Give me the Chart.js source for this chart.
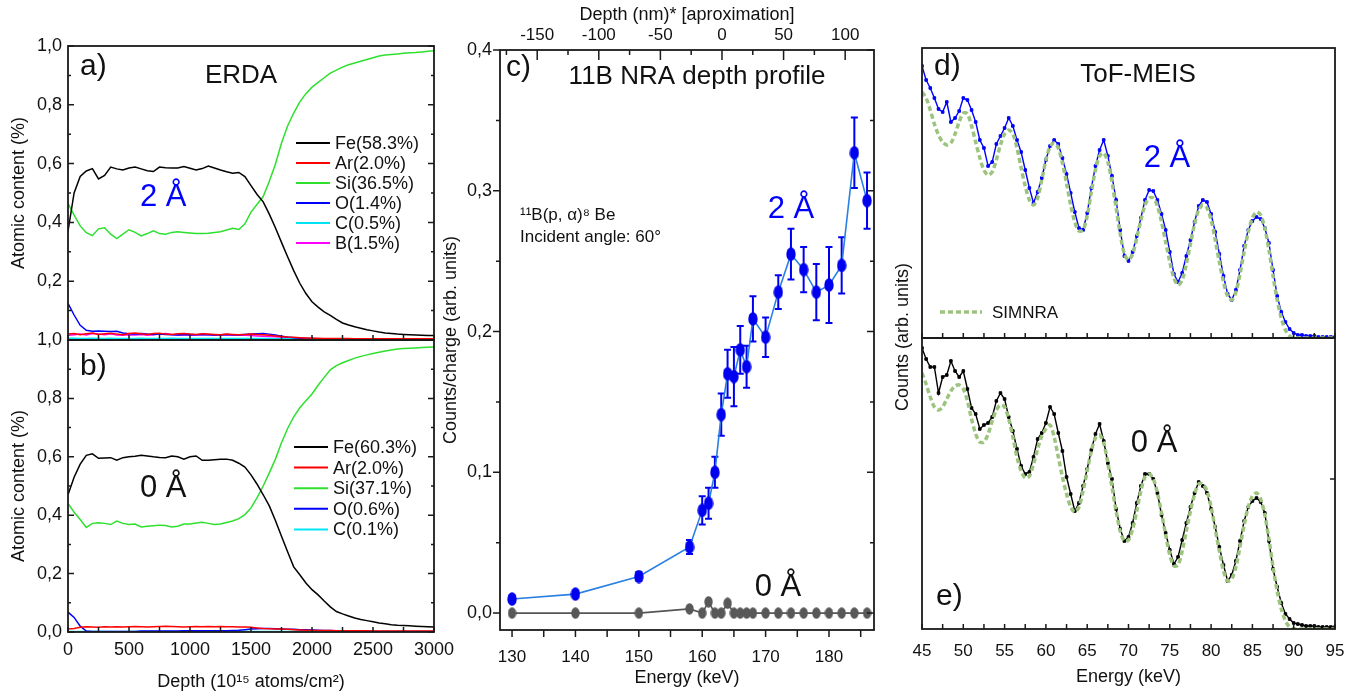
<!DOCTYPE html>
<html>
<head>
<meta charset="utf-8">
<title>ERDA / 11B NRA / ToF-MEIS</title>
<script src="https://cdn.jsdelivr.net/npm/chart.js@4.4.1/dist/chart.umd.min.js"></script>
<style>
	html, body { margin: 0; padding: 0; background: #fff; }
	#stage { position: relative; width: 1372px; height: 700px; overflow: hidden; }
	#stage canvas { position: absolute; left: 0; top: 0; }
</style>
</head>
<body>
<div id="stage">
	<canvas id="erdaA" width="1372" height="700"></canvas>
	<canvas id="erdaB" width="1372" height="700"></canvas>
	<canvas id="nraC" width="1372" height="700"></canvas>
	<canvas id="meisD" width="1372" height="700"></canvas>
	<canvas id="meisE" width="1372" height="700"></canvas>
</div>
<script>

// ---- ERDA (panels a, b): depth in 1e15 atoms/cm2, atomic fraction ----
const depth = [
	0, 50, 100, 150, 200, 250, 300, 350, 400, 450,
	500, 550, 600, 650, 700, 750, 800, 850, 900, 950,
	1000, 1050, 1100, 1150, 1200, 1250, 1300, 1350, 1400, 1450,
	1500, 1550, 1600, 1650, 1700, 1750, 1800, 1850, 1900, 1950,
	2000, 2050, 2100, 2150, 2200, 2250, 2300, 2350, 2400, 2450,
	2500, 2550, 2600, 2650, 2700, 2750, 2800, 2850, 2900, 2950,
	3000
]

const labelsA = ['Fe(58.3%)', 'Ar(2.0%)', 'Si(36.5%)', 'O(1.4%)', 'C(0.5%)', 'B(1.5%)']
const labelsB = ['Fe(60.3%)', 'Ar(2.0%)', 'Si(37.1%)', 'O(0.6%)', 'C(0.1%)']

const feA = [
	0.370, 0.500, 0.556, 0.575, 0.583, 0.548, 0.560, 0.588, 0.582, 0.578,
	0.585, 0.588, 0.582, 0.576, 0.573, 0.588, 0.586, 0.585, 0.585, 0.590,
	0.584, 0.578, 0.583, 0.592, 0.585, 0.578, 0.572, 0.567, 0.570, 0.556,
	0.525, 0.495, 0.470, 0.428, 0.382, 0.332, 0.283, 0.236, 0.193, 0.158,
	0.130, 0.112, 0.096, 0.084, 0.070, 0.058, 0.051, 0.045, 0.040, 0.035,
	0.031, 0.027, 0.024, 0.022, 0.020, 0.019, 0.018, 0.017, 0.016, 0.015,
	0.015
]
const siA = [
	0.465, 0.425, 0.388, 0.365, 0.355, 0.378, 0.382, 0.360, 0.345, 0.360,
	0.375, 0.366, 0.354, 0.362, 0.371, 0.362, 0.360, 0.366, 0.368, 0.366,
	0.364, 0.362, 0.362, 0.363, 0.366, 0.368, 0.374, 0.380, 0.376, 0.395,
	0.435, 0.462, 0.488, 0.540, 0.598, 0.670, 0.728, 0.772, 0.810, 0.838,
	0.860, 0.876, 0.892, 0.908, 0.918, 0.928, 0.936, 0.942, 0.948, 0.954,
	0.960, 0.966, 0.969, 0.971, 0.973, 0.975, 0.977, 0.978, 0.980, 0.982,
	0.984
]
const oA = [
	0.125, 0.085, 0.050, 0.033, 0.030, 0.031, 0.030, 0.029, 0.030, 0.024,
	0.021, 0.020, 0.022, 0.020, 0.019, 0.020, 0.019, 0.018, 0.017, 0.018,
	0.019, 0.018, 0.019, 0.018, 0.017, 0.018, 0.019, 0.018, 0.018, 0.019,
	0.020, 0.021, 0.022, 0.020, 0.017, 0.013, 0.010, 0.008, 0.006, 0.005,
	0.005, 0.004, 0.004, 0.004, 0.004, 0.003, 0.003, 0.003, 0.003, 0.003,
	0.003, 0.003, 0.003, 0.003, 0.003, 0.003, 0.003, 0.003, 0.003, 0.003,
	0.003
]
const arA = [
	0.020, 0.022, 0.018, 0.021, 0.024, 0.019, 0.021, 0.023, 0.020, 0.018,
	0.022, 0.024, 0.021, 0.019, 0.022, 0.023, 0.020, 0.019, 0.021, 0.022,
	0.020, 0.019, 0.021, 0.020, 0.019, 0.018, 0.020, 0.019, 0.018, 0.019,
	0.020, 0.019, 0.018, 0.016, 0.014, 0.012, 0.010, 0.009, 0.008, 0.007,
	0.006, 0.006, 0.005, 0.005, 0.005, 0.005, 0.005, 0.004, 0.004, 0.004,
	0.004, 0.004, 0.004, 0.004, 0.004, 0.004, 0.004, 0.004, 0.004, 0.004,
	0.004
]
const bA = [
	0.016, 0.018, 0.020, 0.017, 0.022, 0.020, 0.018, 0.021, 0.017, 0.016,
	0.018, 0.017, 0.019, 0.016, 0.018, 0.020, 0.022, 0.019, 0.017, 0.018,
	0.016, 0.017, 0.019, 0.018, 0.016, 0.017, 0.018, 0.016, 0.017, 0.016,
	0.015, 0.014, 0.013, 0.012, 0.011, 0.009, 0.008, 0.007, 0.006, 0.005,
	0.005, 0.004, 0.004, 0.004, 0.004, 0.004, 0.003, 0.003, 0.003, 0.003,
	0.003, 0.003, 0.003, 0.003, 0.003, 0.003, 0.003, 0.003, 0.003, 0.003,
	0.003
]
const cA = [
	0.006, 0.006, 0.005, 0.005, 0.006, 0.005, 0.005, 0.006, 0.005, 0.005,
	0.005, 0.005, 0.006, 0.005, 0.005, 0.005, 0.005, 0.006, 0.005, 0.005,
	0.005, 0.005, 0.005, 0.005, 0.005, 0.005, 0.005, 0.005, 0.005, 0.005,
	0.005, 0.005, 0.005, 0.005, 0.004, 0.004, 0.004, 0.004, 0.004, 0.004,
	0.004, 0.004, 0.004, 0.003, 0.003, 0.003, 0.003, 0.003, 0.003, 0.003,
	0.003, 0.003, 0.003, 0.003, 0.003, 0.003, 0.003, 0.003, 0.003, 0.003,
	0.003
]

const feB = [
	0.470, 0.530, 0.575, 0.605, 0.610, 0.595, 0.596, 0.597, 0.588, 0.597,
	0.600, 0.602, 0.605, 0.603, 0.600, 0.598, 0.597, 0.603, 0.600, 0.592,
	0.600, 0.603, 0.588, 0.588, 0.590, 0.592, 0.592, 0.588, 0.578, 0.565,
	0.538, 0.506, 0.470, 0.432, 0.382, 0.328, 0.275, 0.223, 0.196, 0.168,
	0.145, 0.127, 0.106, 0.086, 0.070, 0.062, 0.055, 0.048, 0.043, 0.039,
	0.035, 0.031, 0.028, 0.025, 0.023, 0.022, 0.021, 0.020, 0.019, 0.018,
	0.017
]
const siB = [
	0.440, 0.410, 0.385, 0.358, 0.372, 0.374, 0.372, 0.368, 0.380, 0.372,
	0.368, 0.370, 0.360, 0.362, 0.364, 0.366, 0.365, 0.360, 0.362, 0.370,
	0.370, 0.373, 0.376, 0.372, 0.368, 0.370, 0.375, 0.380, 0.388, 0.402,
	0.425, 0.460, 0.500, 0.545, 0.592, 0.648, 0.697, 0.737, 0.768, 0.792,
	0.815, 0.845, 0.872, 0.898, 0.912, 0.922, 0.930, 0.938, 0.944, 0.949,
	0.954, 0.958, 0.962, 0.966, 0.969, 0.971, 0.972, 0.973, 0.974, 0.975,
	0.976
]
const oB = [
	0.068, 0.050, 0.020, 0.003, 0.002, 0.002, 0.002, 0.002, 0.002, 0.002,
	0.002, 0.002, 0.003, 0.003, 0.003, 0.003, 0.003, 0.003, 0.003, 0.004,
	0.004, 0.004, 0.004, 0.004, 0.004, 0.004, 0.004, 0.005, 0.006, 0.008,
	0.010, 0.011, 0.012, 0.012, 0.011, 0.010, 0.009, 0.009, 0.008, 0.008,
	0.007, 0.006, 0.005, 0.005, 0.004, 0.004, 0.003, 0.003, 0.003, 0.003,
	0.002, 0.002, 0.002, 0.002, 0.002, 0.002, 0.002, 0.002, 0.002, 0.002,
	0.002
]
const arB = [
	0.010, 0.012, 0.016, 0.018, 0.017, 0.016, 0.018, 0.017, 0.018, 0.017,
	0.018, 0.019, 0.018, 0.017, 0.018, 0.019, 0.020, 0.019, 0.018, 0.017,
	0.018, 0.019, 0.018, 0.019, 0.018, 0.019, 0.018, 0.018, 0.017, 0.017,
	0.016, 0.014, 0.012, 0.011, 0.010, 0.010, 0.009, 0.008, 0.007, 0.006,
	0.006, 0.005, 0.005, 0.005, 0.004, 0.004, 0.004, 0.004, 0.004, 0.004,
	0.003, 0.003, 0.003, 0.003, 0.003, 0.003, 0.003, 0.003, 0.003, 0.003,
	0.003
]
const cB = [
	0.002, 0.002, 0.002, 0.002, 0.002, 0.002, 0.002, 0.002, 0.002, 0.002,
	0.002, 0.002, 0.002, 0.002, 0.002, 0.002, 0.002, 0.002, 0.002, 0.002,
	0.002, 0.002, 0.002, 0.002, 0.002, 0.002, 0.002, 0.002, 0.002, 0.002,
	0.002, 0.002, 0.002, 0.002, 0.002, 0.002, 0.002, 0.002, 0.002, 0.002,
	0.002, 0.002, 0.002, 0.002, 0.002, 0.002, 0.002, 0.002, 0.002, 0.002,
	0.002, 0.002, 0.002, 0.002, 0.002, 0.002, 0.002, 0.002, 0.002, 0.002,
	0.002
]

// ---- 11B NRA (panel c): proton energy in keV, counts/charge ----
const energyC = [130, 140, 150, 158, 160, 161, 162, 163, 164, 165, 166, 167, 168, 170, 172, 174, 176, 178, 180, 182, 184, 186]
const boron2A = [0.010, 0.0135, 0.026, 0.047, 0.073, 0.078, 0.100, 0.141, 0.170, 0.168, 0.187, 0.175, 0.209, 0.196, 0.228, 0.255, 0.244, 0.228, 0.233, 0.247, 0.327, 0.293]
const boron2AErr = [0.002, 0.002, 0.003, 0.005, 0.010, 0.011, 0.011, 0.015, 0.017, 0.021, 0.017, 0.015, 0.016, 0.014, 0.012, 0.018, 0.016, 0.020, 0.027, 0.020, 0.025, 0.020]
const boron0A = [0, 0, 0, 0.003, 0, 0.008, 0, 0, 0.007, 0, 0, 0, 0, 0, 0, 0, 0, 0, 0, 0, 0, 0]

// ---- ToF-MEIS (panels d, e): energy in keV, counts in arb. units ----
const energyMeis = [
	45, 45.5, 46, 46.5, 47, 47.5, 48, 48.5, 49, 49.5,
	50, 50.5, 51, 51.5, 52, 52.5, 53, 53.5, 54, 54.5,
	55, 55.5, 56, 56.5, 57, 57.5, 58, 58.5, 59, 59.5,
	60, 60.5, 61, 61.5, 62, 62.5, 63, 63.5, 64, 64.5,
	65, 65.5, 66, 66.5, 67, 67.5, 68, 68.5, 69, 69.5,
	70, 70.5, 71, 71.5, 72, 72.5, 73, 73.5, 74, 74.5,
	75, 75.5, 76, 76.5, 77, 77.5, 78, 78.5, 79, 79.5,
	80, 80.5, 81, 81.5, 82, 82.5, 83, 83.5, 84, 84.5,
	85, 85.5, 86, 86.5, 87, 87.5, 88, 88.5, 89, 89.5,
	90, 90.5, 91, 91.5, 92, 92.5, 93, 93.5, 94, 94.5,
	95
]
const meis2A = [
	272, 258, 250, 240, 229, 226, 236, 216, 220, 227,
	240, 238, 228, 216, 198, 190, 172, 176, 194, 202,
	210, 220, 212, 198, 186, 168, 150, 135, 146, 160,
	178, 192, 198, 194, 180, 164, 145, 126, 110, 108,
	125, 150, 172, 188, 198, 182, 162, 138, 108, 82,
	77, 86, 102, 120, 138, 148, 147, 138, 124, 108,
	86, 64, 56, 65, 82, 98, 116, 132, 138, 136,
	124, 106, 84, 62, 44, 38, 48, 68, 92, 108,
	117, 121, 119, 110, 95, 68, 42, 26, 16, 9,
	5, 3, 3, 2, 2, 2, 1, 1, 1, 1,
	1
]
const simnra2A = [
	246, 240, 228, 214, 203, 196, 193, 195, 204, 216,
	225, 224, 212, 196, 180, 168, 163, 166, 178, 193,
	204, 208, 204, 190, 170, 152, 138, 133, 140, 158,
	178, 191, 195, 190, 175, 155, 133, 116, 107, 108,
	122, 146, 168, 182, 185, 176, 156, 130, 104, 84,
	78, 84, 100, 118, 133, 140, 140, 132, 116, 96,
	76, 60, 53, 58, 74, 94, 114, 128, 133, 130,
	118, 98, 76, 56, 42, 38, 46, 64, 86, 106,
	120, 126, 123, 110, 88, 62, 38, 20, 8, 2,
	0, 0, 0, 0, 0, 0, 0, 0, 0, 0,
	0
]
const meis0A = [
	281, 270, 262, 262, 236, 252, 254, 268, 258, 252,
	258, 240, 221, 215, 200, 204, 206, 212, 228, 236,
	230, 212, 198, 180, 163, 155, 157, 172, 190, 196,
	206, 222, 215, 196, 178, 152, 135, 118, 126, 143,
	160, 179, 195, 205, 188, 166, 150, 120, 100, 88,
	92, 106, 126, 143, 155, 155, 150, 136, 114, 96,
	79, 65, 72, 89, 106, 122, 136, 147, 143, 136,
	120, 102, 82, 64, 48, 54, 68, 88, 108, 122,
	128, 131, 127, 116, 88, 60, 42, 26, 15, 10,
	6, 5, 4, 3, 3, 3, 2, 2, 2, 2,
	2
]
const simnra0A = [
	256, 245, 232, 222, 219, 222, 230, 238, 243, 244,
	240, 228, 210, 195, 187, 187, 195, 208, 219, 224,
	222, 210, 192, 172, 158, 151, 153, 165, 180, 193,
	200, 204, 192, 172, 152, 135, 122, 117, 122, 138,
	158, 178, 191, 194, 186, 166, 142, 118, 98, 88,
	89, 100, 118, 138, 152, 155, 150, 136, 116, 94,
	74, 63, 64, 78, 98, 118, 135, 145, 145, 138,
	122, 100, 78, 58, 48, 50, 62, 82, 104, 122,
	133, 136, 130, 114, 90, 62, 38, 20, 8, 2,
	0, 0, 0, 0, 0, 0, 0, 0, 0, 0,
	0
]

const W = 1372
const H = 700
const FONT = '"Liberation Sans", Arial, Helvetica, sans-serif'
const TXT = '#111'
const EDGE = '#1a1a1a'
const BLUE = '#0000ff'
const SIM_GREEN = '#9cc47e'
const elementColors = ['#000000', '#ff0000', '#2ee02e', '#0000ff', '#00e5f5', '#ff00ff']

function fixSize(px) {
	return scale => {
		if (scale.isHorizontal()) {
			scale.height = px
		} else {
			scale.width = px
		}
	}
}

function comma(v) {
	if (Math.abs(v) < 1e-9) v = 0
	return v.toFixed(1).replace('.', ',')
}

function plain(v) {
	return String(Math.round(v))
}

function pts(xs, ys) {
	return xs.map((x, i) => ({ x, y: ys[i] }))
}

function font(size) {
	return { family: FONT, size }
}

function axis(extra) {
	return Object.assign({
		type: 'linear',
		grid: { display: false, drawTicks: false },
		border: { display: false }
	}, extra)
}

function baseOptions(area, sizes, scales) {
	return {
		responsive: false,
		animation: false,
		events: [],
		layout: {
			padding: {
				left: area.l - (sizes.left || 0),
				top: area.t - (sizes.top || 0),
				right: W - area.r,
				bottom: H - area.b - (sizes.bottom || 0)
			}
		},
		plugins: { legend: { display: false }, tooltip: { enabled: false } },
		scales
	}
}

function drawText(ctx, str, x, y, size, color, align, rotate) {
	ctx.save()
	ctx.font = size + 'px ' + FONT
	ctx.fillStyle = color || TXT
	ctx.textAlign = align || 'left'
	ctx.textBaseline = 'middle'
	ctx.translate(x, y)
	if (rotate) ctx.rotate(rotate)
	ctx.fillText(str, 0, 0)
	ctx.restore()
}

function drawFrame(chart) {
	const a = chart.chartArea
	const ctx = chart.ctx
	ctx.save()
	ctx.strokeStyle = EDGE
	ctx.lineWidth = 1.8
	ctx.strokeRect(a.left, a.top, a.right - a.left, a.bottom - a.top)
	ctx.restore()
}

// len > 0 points into the plot, len < 0 points outward
function drawTicks(chart, scaleId, side, from, to, step, len) {
	const s = chart.scales[scaleId]
	const a = chart.chartArea
	const ctx = chart.ctx
	ctx.save()
	ctx.strokeStyle = EDGE
	ctx.lineWidth = 1.5
	ctx.beginPath()
	for (let i = 0; from + i * step <= to + 1e-9; i++) {
		const p = s.getPixelForValue(from + i * step)
		if (side === 'bottom') {
			ctx.moveTo(p, a.bottom); ctx.lineTo(p, a.bottom - len)
		} else if (side === 'top') {
			ctx.moveTo(p, a.top); ctx.lineTo(p, a.top + len)
		} else if (side === 'left') {
			ctx.moveTo(a.left, p); ctx.lineTo(a.left + len, p)
		} else {
			ctx.moveTo(a.right, p); ctx.lineTo(a.right - len, p)
		}
	}
	ctx.stroke()
	ctx.restore()
}

function drawLineLegend(ctx, datasets, x, y, gap) {
	datasets.forEach((ds, i) => {
		const yy = y + i * gap
		ctx.save()
		ctx.strokeStyle = ds.borderColor
		ctx.lineWidth = 2
		ctx.beginPath()
		ctx.moveTo(x, yy)
		ctx.lineTo(x + 34, yy)
		ctx.stroke()
		ctx.restore()
		drawText(ctx, ds.label, x + 39, yy + 1, 18, TXT)
	})
}

function erdaSets(series, labels) {
	return series.map((ys, i) => ({
		label: labels[i],
		data: pts(depth, ys),
		borderColor: elementColors[i],
		borderWidth: 1.5,
		pointRadius: 0,
		tension: 0
	}))
}

// ---------- panel a ----------
const areaA = { l: 68, t: 46, r: 434, b: 340 }
new Chart(document.getElementById('erdaA'), {
	type: 'line',
	data: { datasets: erdaSets([feA, arA, siA, oA, cA, bA], labelsA) },
	options: baseOptions(areaA, { left: 68, bottom: 0 }, {
		x: axis({ min: 0, max: 3000, ticks: { display: false }, afterFit: fixSize(0) }),
		y: axis({
			min: 0, max: 1,
			ticks: { stepSize: 0.2, padding: 6, font: font(18), color: TXT, callback: v => (v === 0 ? '' : comma(v)) },
			title: { display: true, text: 'Atomic content (%)', font: font(18), color: TXT, padding: { top: 8 } },
			afterFit: fixSize(68)
		})
	}),
	plugins: [{
		id: 'decorA',
		afterDraw(chart) {
			const a = chart.chartArea
			const ctx = chart.ctx
			const sx = chart.scales.x
			const sy = chart.scales.y
			drawFrame(chart)
			drawTicks(chart, 'y', 'left', 0, 1, 0.2, 6)
			drawTicks(chart, 'y', 'left', 0.1, 0.9, 0.2, 3)
			drawTicks(chart, 'y', 'right', 0, 1, 0.2, 6)
			drawTicks(chart, 'y', 'right', 0.1, 0.9, 0.2, 3)
			drawTicks(chart, 'x', 'bottom', 0, 3000, 250, 5)
			drawText(ctx, 'a)', a.left + 12, a.top + 21, 30, TXT)
			drawText(ctx, 'ERDA', a.left + 173, a.top + 30, 26, TXT, 'center')
			drawText(ctx, '2 Å', sx.getPixelForValue(780), sy.getPixelForValue(0.486), 31, BLUE, 'center')
			drawLineLegend(ctx, chart.data.datasets, a.left + 228, a.top + 97, 20)
		}
	}]
})

// ---------- panel b ----------
const areaB = { l: 68, t: 340, r: 434, b: 632 }
new Chart(document.getElementById('erdaB'), {
	type: 'line',
	data: { datasets: erdaSets([feB, arB, siB, oB, cB], labelsB) },
	options: baseOptions(areaB, { left: 68, bottom: 68 }, {
		x: axis({
			min: 0, max: 3000,
			ticks: { stepSize: 500, padding: 7, font: font(18), color: TXT, callback: plain },
			title: { display: true, text: 'Depth (10¹⁵ atoms/cm²)', font: font(18), color: TXT, padding: { top: 0, bottom: 7 } },
			afterFit: fixSize(68)
		}),
		y: axis({
			min: 0, max: 1,
			ticks: { stepSize: 0.2, padding: 6, font: font(18), color: TXT, callback: v => comma(v) },
			title: { display: true, text: 'Atomic content (%)', font: font(18), color: TXT, padding: { top: 8 } },
			afterFit: fixSize(68)
		})
	}),
	plugins: [{
		id: 'decorB',
		afterDraw(chart) {
			const a = chart.chartArea
			const ctx = chart.ctx
			const sx = chart.scales.x
			const sy = chart.scales.y
			drawFrame(chart)
			drawTicks(chart, 'y', 'left', 0, 1, 0.2, 6)
			drawTicks(chart, 'y', 'left', 0.1, 0.9, 0.2, 3)
			drawTicks(chart, 'y', 'right', 0, 1, 0.2, 6)
			drawTicks(chart, 'y', 'right', 0.1, 0.9, 0.2, 3)
			drawTicks(chart, 'x', 'bottom', 0, 3000, 250, 5)
			drawText(ctx, 'b)', a.left + 12, a.top + 27, 30, TXT)
			drawText(ctx, '0 Å', sx.getPixelForValue(780), sy.getPixelForValue(0.493), 31, TXT, 'center')
			drawLineLegend(ctx, chart.data.datasets, a.left + 226, a.top + 107, 20.6)
		}
	}]
})

// ---------- panel c ----------
function ellipseDot(color, w, h) {
	const c = document.createElement('canvas')
	c.width = w
	c.height = h
	const g = c.getContext('2d')
	g.fillStyle = color
	g.beginPath()
	g.ellipse(w / 2, h / 2, w / 2 - 0.3, h / 2 - 0.3, 0, 0, Math.PI * 2)
	g.fill()
	return c
}

const areaC = { l: 500, t: 50, r: 874, b: 630 }
new Chart(document.getElementById('nraC'), {
	type: 'line',
	data: {
		datasets: [
			{
				label: '2 Å',
				data: pts(energyC, boron2A),
				borderColor: '#2a80e2',
				borderWidth: 1.6,
				pointStyle: ellipseDot('#0000f0', 10, 14),
				pointRadius: 5,
				tension: 0
			},
			{
				label: '0 Å',
				data: pts(energyC, boron0A),
				borderColor: '#555555',
				borderWidth: 1.6,
				pointStyle: ellipseDot('#585858', 9, 12),
				pointRadius: 5,
				tension: 0
			}
		]
	},
	options: baseOptions(areaC, { left: 60, top: 50, bottom: 70 }, {
		x: axis({
			position: 'bottom',
			min: 128.1, max: 187.1,
			ticks: { stepSize: 10, includeBounds: false, padding: 17, font: font(17), color: TXT },
			title: { display: true, text: 'Energy (keV)', font: font(18), color: TXT, padding: { top: 0, bottom: 11 } },
			afterFit: fixSize(70)
		}),
		x2: axis({
			axis: 'x',
			position: 'top',
			min: -180.2, max: 123.4,
			ticks: { stepSize: 50, includeBounds: false, padding: 4, font: font(17), color: TXT },
			title: { display: true, text: 'Depth (nm)* [aproximation]', font: font(18), color: TXT, padding: { top: 4, bottom: 0 } },
			afterFit: fixSize(50)
		}),
		y: axis({
			min: -0.012, max: 0.4,
			ticks: { stepSize: 0.1, includeBounds: false, padding: 8, font: font(18), color: TXT, callback: v => comma(v) },
			title: { display: true, text: 'Counts/charge (arb. units)', font: font(18), color: TXT, padding: { top: 0 } },
			afterFit: fixSize(60)
		})
	}),
	plugins: [{
		id: 'errorBars',
		beforeDatasetsDraw(chart) {
			const sx = chart.scales.x
			const sy = chart.scales.y
			const ctx = chart.ctx
			ctx.save()
			ctx.strokeStyle = '#0000f0'
			ctx.lineWidth = 2
			ctx.beginPath()
			energyC.forEach((e, i) => {
				const x = sx.getPixelForValue(e)
				const y1 = sy.getPixelForValue(boron2A[i] + boron2AErr[i])
				const y2 = sy.getPixelForValue(boron2A[i] - boron2AErr[i])
				ctx.moveTo(x, y1); ctx.lineTo(x, y2)
				ctx.moveTo(x - 3.5, y1); ctx.lineTo(x + 3.5, y1)
				ctx.moveTo(x - 3.5, y2); ctx.lineTo(x + 3.5, y2)
			})
			ctx.stroke()
			ctx.restore()
		},
		afterDraw(chart) {
			const a = chart.chartArea
			const ctx = chart.ctx
			const sx = chart.scales.x
			const sy = chart.scales.y
			drawFrame(chart)
			drawTicks(chart, 'y', 'left', 0, 0.4, 0.1, -7)
			drawTicks(chart, 'y', 'left', 0.05, 0.35, 0.1, -4)
			drawTicks(chart, 'y', 'right', 0, 0.4, 0.1, 7)
			drawTicks(chart, 'y', 'right', 0.05, 0.35, 0.1, 4)
			drawTicks(chart, 'x', 'bottom', 130, 185, 5, -7)
			drawTicks(chart, 'x2', 'top', -150, 100, 50, 10)
			drawTicks(chart, 'x2', 'top', -175, 75, 50, 5)
			drawText(ctx, 'c)', a.left + 6, a.top + 18, 30, TXT)
			drawText(ctx, '11B NRA depth profile', a.left + 197, a.top + 27, 26, TXT, 'center')
			drawText(ctx, '¹¹B(p, α)⁸ Be', a.left + 20, a.top + 165, 17, TXT)
			drawText(ctx, 'Incident angle: 60°', a.left + 20, a.top + 187, 17, TXT)
			drawText(ctx, '2 Å', sx.getPixelForValue(174.0), sy.getPixelForValue(0.2868), 31, BLUE, 'center')
			drawText(ctx, '0 Å', sx.getPixelForValue(171.95), sy.getPixelForValue(0.0185), 31, TXT, 'center')
		}
	}]
})

// ---------- panels d, e ----------
function meisSets(measured, simulated, color) {
	return [
		{
			label: 'SIMNRA',
			data: pts(energyMeis, simulated),
			borderColor: SIM_GREEN,
			borderWidth: 3.5,
			borderDash: [5, 3],
			pointRadius: 0,
			tension: 0.3
		},
		{
			label: 'data',
			data: pts(energyMeis, measured),
			borderColor: color,
			backgroundColor: color,
			borderWidth: 1.4,
			pointStyle: 'rect',
			pointRadius: 1.8,
			pointBorderWidth: 1,
			tension: 0
		}
	]
}

const areaD = { l: 922, t: 48, r: 1335, b: 338 }
new Chart(document.getElementById('meisD'), {
	type: 'line',
	data: { datasets: meisSets(meis2A, simnra2A, BLUE) },
	options: baseOptions(areaD, { left: 42, bottom: 0 }, {
		x: axis({ min: 45, max: 95, ticks: { display: false }, afterFit: fixSize(0) }),
		y: axis({ min: 0, max: 290, ticks: { display: false }, afterFit: fixSize(42) })
	}),
	plugins: [{
		id: 'decorD',
		afterDraw(chart) {
			const a = chart.chartArea
			const ctx = chart.ctx
			const sx = chart.scales.x
			const sy = chart.scales.y
			drawFrame(chart)
			drawTicks(chart, 'x', 'bottom', 45, 95, 2.5, 5)
			drawText(ctx, 'd)', a.left + 12, a.top + 19, 30, TXT)
			drawText(ctx, 'ToF-MEIS', a.left + 216, a.top + 27, 26, TXT, 'center')
			drawText(ctx, '2 Å', sx.getPixelForValue(74.66), sy.getPixelForValue(180), 31, BLUE, 'center')
			ctx.save()
			ctx.strokeStyle = SIM_GREEN
			ctx.lineWidth = 3.5
			ctx.setLineDash([5, 3])
			ctx.beginPath()
			ctx.moveTo(a.left + 18, a.top + 264)
			ctx.lineTo(a.left + 60, a.top + 264)
			ctx.stroke()
			ctx.restore()
			drawText(ctx, 'SIMNRA', a.left + 70, a.top + 265, 17, TXT)
		}
	}]
})

const areaE = { l: 922, t: 338, r: 1335, b: 629 }
new Chart(document.getElementById('meisE'), {
	type: 'line',
	data: { datasets: meisSets(meis0A, simnra0A, '#000000') },
	options: baseOptions(areaE, { left: 42, bottom: 71 }, {
		x: axis({
			min: 45, max: 95,
			ticks: { stepSize: 5, padding: 12, font: font(17), color: TXT },
			title: { display: true, text: 'Energy (keV)', font: font(18), color: TXT, padding: { top: 0, bottom: 12 } },
			afterFit: fixSize(71)
		}),
		y: axis({ min: 0, max: 291, ticks: { display: false }, afterFit: fixSize(42) })
	}),
	plugins: [{
		id: 'decorE',
		afterDraw(chart) {
			const a = chart.chartArea
			const ctx = chart.ctx
			const sx = chart.scales.x
			const sy = chart.scales.y
			drawFrame(chart)
			drawTicks(chart, 'x', 'bottom', 45, 95, 2.5, 5)
			drawTicks(chart, 'y', 'right', 150, 150, 150, 5)
			drawText(ctx, 'e)', a.left + 14, a.bottom - 32, 30, TXT)
			drawText(ctx, '0 Å', sx.getPixelForValue(73.1), sy.getPixelForValue(186), 31, TXT, 'center')
			drawText(ctx, 'Counts (arb. units)', a.left - 19, a.top - 1, 18, TXT, 'center', -Math.PI / 2)
		}
	}]
})
</script>
</body>
</html>
